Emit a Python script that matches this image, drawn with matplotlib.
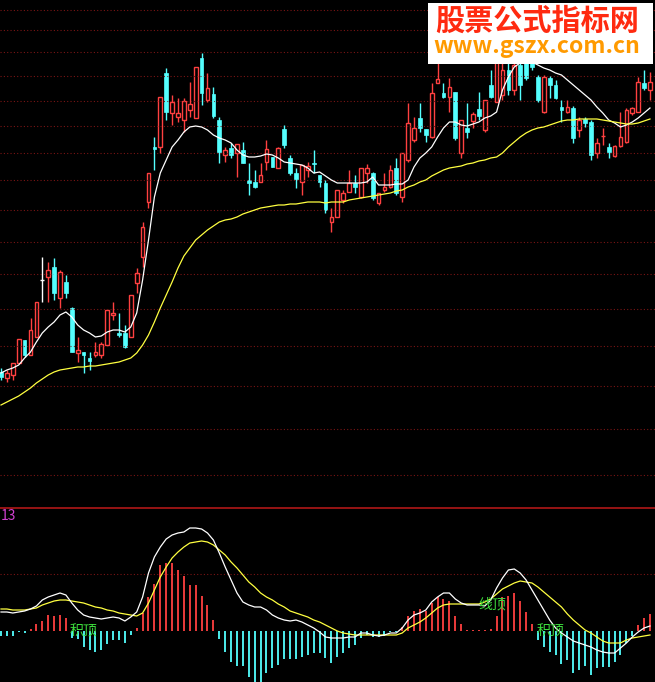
import matplotlib
matplotlib.use("Agg")
import matplotlib.pyplot as plt
import numpy as np

plt.rcParams['font.family'] = ['Noto Sans CJK SC', 'DejaVu Sans']

# Candles (screen-y units, smaller = higher price): open, close, high, low
opens  = [372,378,375,363,340,355,337,280,277,267,298,282,308,353,352,358,355,355,345,315,333,333,337,283,257,202,147,147,73,113,117,120,110,118,58,100,94,120,155,148,153,150,180,182,182,162,157,168,129,158,173,182,170,163,175,183,
          222,217,200,192,183,197,173,173,203,190,187,168,197,160,140,118,129,137,83,93,97,92,153,128,121,109,130,85,102,
          95,70,90,65,60,62,77,112,78,85,107,112,108,130,119,122,153,136,147,156,146,142,113,112,83,90]
closes = [377,373,363,339,355,330,302,280,270,293,272,293,352,350,355,361,352,344,310,313,335,347,295,273,227,173,149,97,112,102,113,101,104,67,93,88,116,152,150,155,144,163,183,187,175,149,167,148,145,173,179,165,166,164,182,210,
          217,190,193,183,187,168,168,198,193,187,170,193,153,123,128,128,135,93,79,97,87,138,120,132,114,116,100,97,60,
          70,90,65,85,78,67,100,77,85,98,110,107,138,120,123,155,143,135.5,152,146,137,110,108,82,88,82]
highs  = [368,370,363,339,340,318,302,257,262,258,270,275,307,337,352,352,342,342,310,302,313,325,295,268,222,173,137,97,68,95,98,98,82,67,53,73,87,117,147,143,144,142,163,170,163,140,157,147,125,155,168,165,162,150,175,180,
          208,190,190,170,175,168,164,172,193,173,165,158,153,103,117,103,129,83,60,83,78,92,120,103,112,92,100,70,50,
          55,60,55,55,55,58,75,75,76,80,100,100,106,117,117,120,138,128,143,145,112,108,107,77,70,72]
lows   = [380,382,380,363,357,355,337,302,302,300,308,298,352,362,373,370,357,358,345,320,337,348,337,293,267,208,170,153,120,125,122,132,117,118,105,102,118,163,162,158,177,163,195,188,182,170,167,168,148,175,188,195,177,173,187,213,
          232,217,203,192,193,198,183,200,205,192,188,195,202,162,142,132,142,138,83,98,112,140,158,138,128,120,132,98,102,
          100,95,95,100,80,70,102,113,98,99,122,113,143,137,127,160,158,145,158,157,147,143,115,112,90,100]

# Moving averages on the price panel (screen-y units)
ma_fast = [373,370,368,365,358,352,342,333,327,322,315,312,317,325,330,333,337,336,332,330,330,332,327,313,280,240,197,173,160,147,140,132,127,126,127,130,135,138,140,143,150,155,157,157,156,154,155,158,162,163,164,165,168,173,172,176,
           180,183,183,183,183,183,182,177,185,185,185,184,184,180,167,158,153,147,137,128,122,122,125,126,124,122,118,116,112,
           90,77,67,63,62,62,65,68,70,73,75,80,85,90,95,100,107,113,120,123,127,125,122,118,113,108]
ma_slow = [405,402,399,396,392,388,383,379,375,372,370,369,368,367,367,366,366,365,364,363,362,360,358,353,345,335,322,308,295,282,268,256,248,240,235,230,226,222,220,219,217,214,212,210,208,207,206,205,205,204,204,203,202,202,202,203,
           202,202,202,200,199,198,197,196,195,194,193,191,190,187,185,182,180,176,173,170,168,167,166,164,163,161,160,158,157,
           153,147,142,137,133,130,128,127,125,123,121,120,120,119,119,119,119,120,121,122,123,124,124,123,121,119]

# MACD panel (screen-y units; zero line at 631)
hist = [636,636,636,632,633,629,624,621,615,616,615,618,638,639,647,650,652,650,644,640,640,643,635,628,613,597,584,565,563,563,570,576,585,585,596,605,620,639,652,662,666,666,677,682,682,673,668,665,659,659,659,657,655,653,653,658,
        663,657,653,648,645,638,635,637,637,636,632,632,627,616,611,609,611,603,597,599,601,616,624,630,630,630,630,629,616,
        597,596,593,601,612,624,640,647,652,655,664,660,673,670,666,675,668,667,667,662,655,643,636,625,618,614]
dif = [612,612,613,612,611,609,606,600,597,595,593,595,603,610,615,617,618,619,618,617,618,621,617,612,597,573,557,547,539,535,533,532,528,528,529,533,540,553,567,580,593,602,605,607,607,610,615,618,620,621,620,622,625,628,632,637,
       638,638,638,637,637,633,633,635,636,635,633,633,628,620,615,613,610,602,597,593,593,599,603,605,605,605,606,600,588,
       578,570,569,573,580,590,600,610,620,628,633,637,641,643,645,647,650,652,653,653,648,643,637,632,628,626]
dea = [609,609,610,610,610,609,608,605,603,601,600,600,601,602,603,605,607,608,610,611,613,614,615,616,613,603,590,577,567,558,552,547,543,542,541,542,545,550,555,562,568,575,582,587,593,597,600,604,607,611,613,615,617,620,622,625,
       628,631,633,634,635,635,635,635,635,635,635,635,633,628,625,622,618,613,608,605,604,604,604,604,604,604,602,599,594,
       589,586,583,581,582,583,587,592,597,602,607,614,620,625,630,633,637,641,643,643,643,640,638,637,636,635]

labels = ["积顶", "线顶", "积顶"]
label_x = [13.9, 83.2, 93.2]
label_y = [631, 604, 631]
grid_top = [10, 30, 52, 76, 101, 126, 153, 180, 210, 242, 274, 309, 346, 386, 429, 475]
grid_bot = [574]

RED = "#ff4040"
CYAN = "#54ffff"
W, H = 655, 682
fig = plt.figure(figsize=(W/100, H/100), dpi=100, facecolor="black")
sep = 507
ax1 = fig.add_axes([0, (H-sep)/H, 1, sep/H], facecolor="black")
ax2 = fig.add_axes([0, 0, 1, (H-sep)/H], facecolor="black")
x0, x1 = -0.17, 110.85
for ax in (ax1, ax2):
    ax.set_xlim(x0, x1)
    ax.axis("off")
ax1.set_ylim(sep, 0)
ax2.set_ylim(H, sep)

for g in grid_top:
    ax1.axhline(g, color="#7a1515", lw=0.8, ls=(0, (1, 2)))
for g in grid_bot:
    ax2.axhline(g, color="#7a1515", lw=0.8, ls=(0, (1, 2)))
ax2.axhline(sep + 0.5, color="#b01818", lw=1.2)

xs = np.arange(len(opens))
bw = 0.62
for i in xs:
    o, c, h, l = opens[i], closes[i], highs[i], lows[i]
    if c < o:  # up
        col = RED
        ax1.vlines(i, o, l, color=col, lw=1)
        ax1.vlines(i, h, c, color=col, lw=1)
        ax1.add_patch(plt.Rectangle((i - bw/2, c), bw, o - c, fill=False, edgecolor=col, lw=1))
    elif c > o:
        col = CYAN
        ax1.vlines(i, h, l, color=col, lw=1)
        ax1.add_patch(plt.Rectangle((i - bw/2, o), bw, c - o, facecolor=col, edgecolor=col, lw=0.5))
    else:
        ax1.vlines(i, h, l, color="white", lw=1)
        ax1.hlines(o, i - bw/2, i + bw/2, color="white", lw=1)

ax1.plot(xs, ma_fast, color="white", lw=0.9)
ax1.plot(xs, ma_slow, color="#ffff40", lw=0.9)

zero = 631
for i in xs:
    v = hist[i]
    ax2.vlines(i, zero, v, color=RED if v < zero else CYAN, lw=1.3)
ax2.plot(xs, dea, color="#ffff40", lw=0.9)
ax2.plot(xs, dif, color="white", lw=0.9)
for t, lx, ly in zip(labels, label_x, label_y):
    ax2.text(lx, ly, t, color="#3cdc3c", fontsize=10, ha="center", va="center")
ax2.text(0.0, 516, "13", color="#d040d0", fontsize=10, ha="left", va="center")

# watermark
fig.patches.append(plt.Rectangle((428/W, 1 - 64/H), (653-428)/W, 61/H, transform=fig.transFigure,
                                 facecolor="white", edgecolor="none", zorder=10))
fig.text(537/W, 1 - 21/H, "股票公式指标网", color="#ff2a10", fontsize=21, fontweight="bold",
         ha="center", va="center", zorder=11)
fig.text(537/W, 1 - 47/H, "www.gszx.com.cn", color="#ff9a00", fontsize=16.5, fontweight="bold",
         ha="center", va="center", zorder=11)

fig.savefig("out.png", dpi=100, facecolor="black")
